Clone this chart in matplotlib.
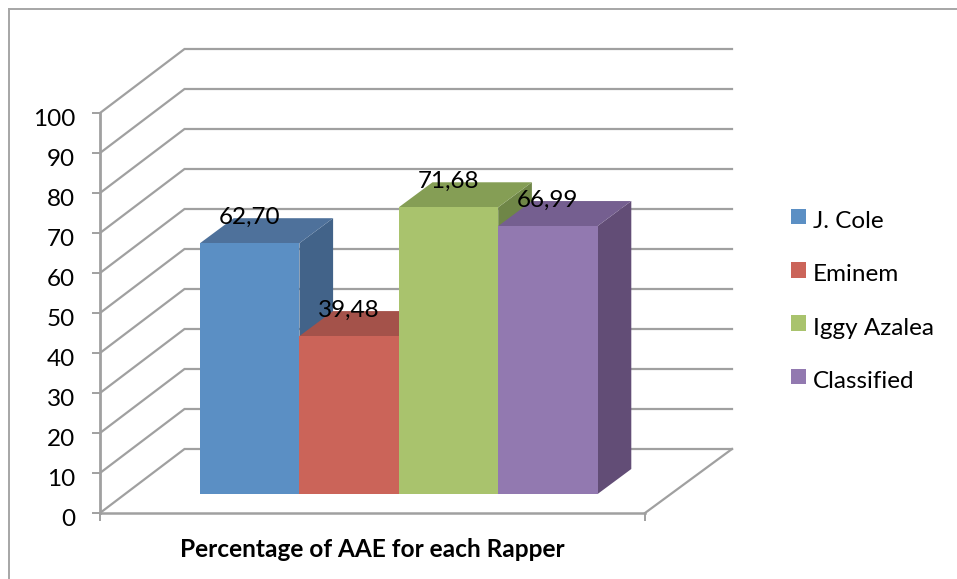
import matplotlib
matplotlib.use("Agg")
import matplotlib.pyplot as plt
from matplotlib.lines import Line2D
from matplotlib.transforms import ScaledTranslation

plt.rcParams['font.family'] = ['Lato', 'DejaVu Sans']

rappers = ["J. Cole", "Eminem", "Iggy Azalea", "Classified"]
aae_percent = [62.70, 39.48, 71.68, 66.99]
value_labels = ["62,70", "39,48", "71,68", "66,99"]
y_ticks = list(range(0, 101, 10))
axis_title = "Percentage of AAE for each Rapper"

front_colors = ["#5b8fc4", "#cb6459", "#a9c36d", "#9279b0"]
top_colors = ["#4e719b", "#a4524a", "#859e55", "#755f90"]
side_colors = ["#426389", "#8f4339", "#6f8647", "#624d76"]
GRID = "#a0a0a0"
TEXT_SIZE = 17.5

W, H = 957, 579
fig = plt.figure(figsize=(W / 100, H / 100), dpi=100, facecolor="white")
ax = fig.add_axes([100 / W, 1 - 513 / H, 545 / W, 400 / H])

PX_X = 99.4   # pixels per category unit
PX_Y = 4.0    # pixels per value unit
ax.set_xlim(0, 545 / PX_X)
ax.set_ylim(0, 100)
ax.patch.set_visible(False)

# Oblique projection: how far the back wall sits from the front plane
wall_dx, wall_dy = 84.5 / PX_X, 64 / PX_Y
bar_dx, bar_dy = 25 / PX_X, 19 / PX_Y        # front face of the bars
depth_dx, depth_dy = 33.7 / PX_X, 25 / PX_Y  # depth of each bar
gap = 75 / PX_X

# Gridlines: along the side wall, then across the back wall
x_end = ax.get_xlim()[1]
wall_end = x_end + 87 / PX_X
for v in y_ticks:
    ax.plot([0, wall_dx, wall_end], [v, v + wall_dy, v + wall_dy],
            color=GRID, lw=1.6, clip_on=False, zorder=1, solid_joinstyle="miter")
ax.plot([x_end, wall_end], [0, wall_dy], color=GRID, lw=1.6,
        clip_on=False, zorder=1)

# Bars drawn left to right so nearer faces cover earlier sides
for i, (name, val) in enumerate(zip(rappers, aae_percent)):
    x0 = gap + bar_dx + i
    x1 = x0 + 1
    y0 = bar_dy
    y1 = bar_dy + val
    z = 2 + i
    ax.fill([x1, x1 + depth_dx, x1 + depth_dx, x1],
            [y0, y0 + depth_dy, y1 + depth_dy, y1],
            color=side_colors[i], lw=0, clip_on=False, zorder=z)
    ax.fill([x0, x1, x1 + depth_dx, x0 + depth_dx],
            [y1, y1, y1 + depth_dy, y1 + depth_dy],
            color=top_colors[i], lw=0, clip_on=False, zorder=z)
    ax.bar(x0, val, width=1, bottom=bar_dy, align="edge", color=front_colors[i],
           lw=0, label=name, clip_on=False, zorder=z)

# Value labels float above each bar's top face
for i, (val, txt) in enumerate(zip(aae_percent, value_labels)):
    ax.annotate(txt, (gap + bar_dx + i + 0.5, bar_dy + val), xytext=(0, 18.5),
                textcoords="offset points", ha="center", va="center",
                fontsize=TEXT_SIZE, color="black", zorder=10, annotation_clip=False)

# Axes
for side in ("top", "right"):
    ax.spines[side].set_visible(False)
ax.spines["left"].set_color(GRID)
ax.spines["left"].set_linewidth(2.0)
ax.spines["bottom"].set_color(GRID)
ax.spines["bottom"].set_linewidth(1.8)
ax.set_yticks(y_ticks)
ax.set_xticks([0, x_end])
ax.set_xticklabels([])
ax.tick_params(axis="both", color=GRID, width=1.4, length=5.8)
ax.tick_params(axis="y", labelsize=TEXT_SIZE, pad=12, labelcolor="black")
nudge = ScaledTranslation(0, -3.5 / 72, fig.dpi_scale_trans)
for lab in ax.get_yticklabels():
    lab.set_transform(lab.get_transform() + nudge)
ax.set_xlabel(axis_title, fontsize=17.6, fontweight="bold", labelpad=9)

# Legend: text sits a little below the centre of its swatch
legend = ax.legend(loc="upper left", bbox_to_anchor=(779 / W, 1 - 196 / H),
                   bbox_transform=fig.transFigure, frameon=False, fontsize=TEXT_SIZE,
                   handlelength=0.62, handleheight=0.62, handletextpad=0.27,
                   labelspacing=1.33, borderpad=0.5, borderaxespad=0)
for text in legend.get_texts():
    text.set_y(-3)

# Outer chart border, open to the right and bottom edges
for xs, ys in (([8.5, 8.5], [579, 9]), ([8.5, 957], [9, 9])):
    fig.add_artist(Line2D([x / W for x in xs], [1 - y / H for y in ys],
                          color="#a6a6a6", lw=1.4))

fig.savefig("out.png", dpi=100)
